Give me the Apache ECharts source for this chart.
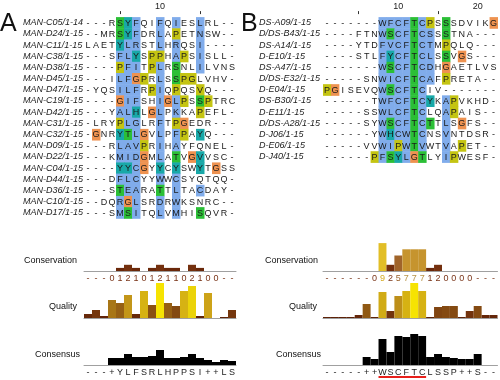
<!DOCTYPE html>
<html>
<head>
<meta charset="utf-8">
<script src="https://cdn.jsdelivr.net/npm/echarts@6.0.0/dist/echarts.min.js"></script>
<style>
  html, body { margin: 0; background: #fff; }
  #chart { width: 500px; height: 380px; }
</style>
</head>
<body>
<div id="chart"></div>
<script>
// ---- panel A alignment
const namesA = ['MAN-C05/1-14', 'MAN-D24/1-15', 'MAN-C11/1-15', 'MAN-C38/1-15', 'MAN-D38/1-15',
  'MAN-D45/1-15', 'MAN-D47/1-15', 'MAN-C19/1-15', 'MAN-D42/1-15', 'MAN-C31/1-15', 'MAN-C32/1-15',
  'MAN-D09/1-15', 'MAN-D22/1-15', 'MAN-C04/1-15', 'MAN-D44/1-15', 'MAN-D36/1-15', 'MAN-C10/1-15',
  'MAN-D17/1-15'];
const seqA = [
  '---RSYFQIFQIESLRL--', '--MRSYFDRLAPETNSW--', 'LAETYLRSTLHRQSI----', '---SFLYSPPHAPSISLL-',
  '----PFITPLRSNLILVNS', '---ILFGPRLSSPGLVHV-', '-YQSILFRPIQPQSVQ---', '----GIFSHIGLPSSPTRC',
  '---YALHLGLPKKAPEFL-', '-LRYPLGLRFTPGEDR---', '-GNRYTLGVLPFPAYQ---', '---RLAVPRIHAYFQNEL-',
  '---KMIDGMLATVGVVSC-', '----YYCGYYCYSWYTGSS', '---DFLCYYWWCSYQTQQ-', '---STEARATTLTACDAY-',
  '--DQRGLSRDRWKSNRC--', '---SMSITQLVMHISQVR-'];
// residue classes: h hydrophobic, p polar, a aromatic, y proline, g glycine, . none
const clsA = [
  '....pah..h.h..h....', '....pah..h.y..h....', '....ahh..h.h..h....', '....hha.yy.hy.h....',
  '....yhh.yh.p..h....', '....hhgy.h.pyy.....', '....hhh.yh.y..y....', '....ghh..hghy.py...',
  '....hha.gh.h..y....', '....yhh..h.yg......', '.g..aphg.h.hy.a....', '....hhhy.h.h.......',
  '....hhhg.h.p.ga....', '....aahg.a.a..a.g..', '....hhh..h.h.......', '....phh..p.h..h....',
  '....hgh..h.h.......', '....hph..h.h..p....'];
const colsA = ['1','2','3','4','5','6','7','8','9','10','11','12','13','14','15','16','17','18','19'];

// ---- panel B alignment
const namesB = ['DS-A09/1-15', 'D/DS-B43/1-15', 'DS-A14/1-15', 'D-E10/1-15', 'DS-A47/1-15',
  'D/DS-E32/1-15', 'D-E04/1-15', 'DS-B30/1-15', 'D-E11/1-15', 'D/DS-A28/1-15', 'D-J06/1-15',
  'D-E06/1-15', 'D-J40/1-15'];
const seqB = [
  '-------WFCFTCPSSSDVIKG', '----FTNWSCFTCSSSTNA---', '----YTDFVCFTCTMPQLQ---',
  '----STLFYCFTCLSSVGS---', '-------WSCFTCDHGAETLVS', '-----SNWICFTCAFPRETA--',
  'PGISEVQWSCFTCIV-------', '------TWFCFTCYKAPVKHD-', '-----SSWLCFTCLQAPAIS--',
  '-----SYWSCFTCTTLSGFS--', '------YWHCWTCNSVNTDSR-', '-----VVWIPWTVWTVAPET--',
  '------PFSYLGTLYIPWESF-'];
const clsB = [
  '.......hhhhphy.p.....g', '.......hphhphh.p......', '.......hhhhphh.y......',
  '.......hahhphh.p.g....', '.......hphhphh.g......', '.......hhhhphh.y......',
  'yg.....hphhph.........', '.......hhhhpha.hy.....', '.......hhhhph..hy.....',
  '.......hphhphp.h.g....', '.......hahhph..h......', '.......hhyhph..h.y....',
  '......yhpahgp..hy.....'];
const colsB = ['1','2','3','4','5','6','7','8','9','10','11','12','13','14','15','16','17','18','19','20','21','22'];

// ---- annotation rows
const consA = [null, null, null, 0, 1, 2, 1, 0, 1, 2, 1, 1, 0, 2, 1, 0, 0, null, null];
const consB = [null, null, null, null, null, null, 0, 9, 2, 5, 7, 7, 7, 1, 2, 0, 0, 0, 0, null, null, null];
const qualA = [4, 8, 2, 18, 15, 23, 4, 27, 13, 35, 15, 12, 27, 32, 2, 25, 0, 1, 8];
const qualB = [1, 1, 1, 1, 3, 14, 1, 26, 7, 22, 27, 35, 27, 1, 11, 12, 12, 1, 7, 12, 3, 3];
const consensusA = [0, 0, 0, 7, 7, 11, 8, 8, 9, 15, 7, 7, 8, 11, 7, 5, 3, 5, 4];
const consensusB = [0, 0, 0, 0, 0, 8, 6, 26, 13, 29, 28, 31, 29, 8, 11, 8, 7, 6, 6, 11, 0, 0];
const consensusLabelsA = ['-','-','-','+','Y','L','F','S','R','L','H','P','P','S','I','+','+','L','S'];
const consensusLabelsB = ['-','-','-','-','-','+','+','W','S','C','F','T','C','L','S','S','P','+','+','S','-','-'];
const underlineB = [8, 13]; // columns of the WSCFTC motif

const FONT = '"Liberation Sans", Arial, sans-serif';
const residueColor = { h: '#80aceb', p: '#2bbf36', a: '#18a8a8', y: '#c4c412', g: '#ee9250' };

function consLabelColor(v) {
  if (v == null || v <= 2) return '#7a3418';
  if (v <= 5) return '#98602c';
  if (v <= 7) return '#b89448';
  return '#d4aa20';
}

function alignmentSeries(idx, seqs, classes) {
  const cells = [];
  seqs.forEach(function (s, r) {
    s.split('').forEach(function (ch, c) { cells.push([c, r, ch, classes[r][c]]); });
  });
  return {
    type: 'custom', xAxisIndex: idx, yAxisIndex: idx, clip: false,
    data: cells.map(function (d) { return [d[0], d[1]]; }),
    encode: { x: 0, y: 1 },
    renderItem: function (params, api) {
      const d = cells[params.dataIndex];
      const p = api.coord([api.value(0), api.value(1)]);
      const s = api.size([1, 1]);
      const kids = [];
      if (residueColor[d[3]]) {
        kids.push({ type: 'rect',
          shape: { x: p[0] - s[0] / 2, y: p[1] - s[1] / 2, width: s[0] + 0.5, height: s[1] + 0.5 },
          style: { fill: residueColor[d[3]] } });
      }
      kids.push({ type: 'text',
        style: { text: d[2], x: p[0], y: p[1] + 0.5, align: 'center', verticalAlign: 'middle',
          textAlign: 'center', textVerticalAlign: 'middle', font: '9px ' + FONT, fill: '#1a1a1a' } });
      return { type: 'group', children: kids };
    }
  };
}

function alignXAxis(idx, cols) {
  return {
    gridIndex: idx, type: 'category', data: cols, position: 'top', offset: 3,
    axisLine: { show: false },
    axisTick: { show: true, alignWithLabel: true, length: 3,
      interval: function (i) { return (i + 1) % 5 === 0 && (i + 1) % 10 !== 0; },
      lineStyle: { color: '#333' } },
    axisLabel: { interval: function (i) { return (i + 1) % 10 === 0; },
      margin: 3, fontSize: 9, color: '#222', fontFamily: FONT },
    splitLine: { show: false }
  };
}

function alignYAxis(idx, names, margin) {
  return {
    gridIndex: idx, type: 'category', data: names, inverse: true,
    axisLine: { show: false }, axisTick: { show: false }, splitLine: { show: false },
    axisLabel: { interval: 0, align: 'left', margin: margin, fontSize: 9, fontStyle: 'italic',
      color: '#222', fontFamily: FONT }
  };
}

function annoXAxis(idx, cols, labels, colorFn) {
  return {
    gridIndex: idx, type: 'category', data: cols,
    axisLine: { show: true, lineStyle: { color: '#a0a0a0', width: 1 } },
    axisTick: { show: false }, splitLine: { show: false },
    axisLabel: labels ? {
      interval: 0, margin: 3, fontSize: 9, fontFamily: FONT,
      formatter: function (v, i) { return labels[i]; },
      color: colorFn || '#222'
    } : { show: false }
  };
}

function valYAxis(idx, max) {
  return { gridIndex: idx, type: 'value', min: 0, max: max, show: false };
}

function barSeries(idx, values, color) {
  const s = { type: 'bar', xAxisIndex: idx, yAxisIndex: idx, data: values,
    barCategoryGap: '0%', barGap: '0%' };
  if (color) s.itemStyle = { color: color };
  return s;
}

const consLabelsA = consA.map(function (v) { return v == null ? '-' : String(v); });
const consLabelsB = consB.map(function (v) { return v == null ? '-' : String(v); });

const chart = echarts.init(document.getElementById('chart'), null, { renderer: 'canvas' });

chart.setOption({
  animation: false,
  backgroundColor: '#fff',
  grid: [
    { left: 84, top: 17.1, width: 152, height: 201.2 },
    { left: 323, top: 17.1, width: 174.5, height: 145.3 },
    { left: 84, top: 240, width: 152, height: 31 },
    { left: 323, top: 240, width: 174.5, height: 31 },
    { left: 84, top: 282, width: 152, height: 36 },
    { left: 323, top: 282, width: 174.5, height: 36 },
    { left: 84, top: 333, width: 152, height: 32 },
    { left: 323, top: 333, width: 174.5, height: 32 }
  ],
  xAxis: [
    alignXAxis(0, colsA),
    alignXAxis(1, colsB),
    annoXAxis(2, colsA, consLabelsA, function (v, i) { return consLabelColor(consA[i]); }),
    annoXAxis(3, colsB, consLabelsB, function (v, i) { return consLabelColor(consB[i]); }),
    annoXAxis(4, colsA, null),
    annoXAxis(5, colsB, null),
    annoXAxis(6, colsA, consensusLabelsA),
    annoXAxis(7, colsB, consensusLabelsB)
  ],
  yAxis: [
    alignYAxis(0, namesA, 61),
    alignYAxis(1, namesB, 64),
    valYAxis(2, 10), valYAxis(3, 10),
    valYAxis(4, 36), valYAxis(5, 36),
    valYAxis(6, 32), valYAxis(7, 32)
  ],
  visualMap: [
    { show: false, type: 'continuous', seriesIndex: [2, 3], dimension: 1, min: 0, max: 10,
      inRange: { color: ['#5a1c06', '#6a280a', '#74300e', '#80401a', '#905222', '#a0642a',
        '#b47c2c', '#c6942e', '#d6ac2a', '#e2be26', '#f0d020'] } },
    { show: false, type: 'continuous', seriesIndex: [4, 5], dimension: 1, min: 0, max: 36,
      inRange: { color: ['#5a1e06', '#6e2e0c', '#844a12', '#a87616', '#c89c1a', '#e4c80c', '#fae800'] } }
  ],
  series: [
    alignmentSeries(0, seqA, clsA),
    alignmentSeries(1, seqB, clsB),
    barSeries(2, consA),
    barSeries(3, consB),
    barSeries(4, qualA),
    barSeries(5, qualB),
    barSeries(6, consensusA, '#000'),
    barSeries(7, consensusB, '#000'),
    {
      type: 'custom', xAxisIndex: 7, yAxisIndex: 7, clip: false,
      data: [[underlineB[0] - 1, underlineB[1] - 1]],
      encode: { x: [0, 1] },
      renderItem: function (params, api) {
        const a = api.coord([api.value(0), 0]);
        const b = api.coord([api.value(1), 0]);
        const s = api.size([1, 0]);
        return { type: 'line',
          shape: { x1: a[0] - s[0] / 2, y1: a[1] + 12, x2: b[0] + s[0] / 2, y2: a[1] + 12 },
          style: { stroke: '#e8201c', lineWidth: 2 } };
      }
    }
  ],
  graphic: [
    { type: 'text', x: 0, y: 24, style: { text: 'A', font: '25px ' + FONT, fill: '#111',
      align: 'left', verticalAlign: 'middle', textAlign: 'left', textVerticalAlign: 'middle' } },
    { type: 'text', x: 241, y: 24, style: { text: 'B', font: '25px ' + FONT, fill: '#111',
      align: 'left', verticalAlign: 'middle', textAlign: 'left', textVerticalAlign: 'middle' } },
    { type: 'text', x: 77, y: 261, style: { text: 'Conservation', font: '9px ' + FONT, fill: '#111',
      align: 'right', verticalAlign: 'middle', textAlign: 'right', textVerticalAlign: 'middle' } },
    { type: 'text', x: 77, y: 307, style: { text: 'Quality', font: '9px ' + FONT, fill: '#111',
      align: 'right', verticalAlign: 'middle', textAlign: 'right', textVerticalAlign: 'middle' } },
    { type: 'text', x: 80, y: 355, style: { text: 'Consensus', font: '9px ' + FONT, fill: '#111',
      align: 'right', verticalAlign: 'middle', textAlign: 'right', textVerticalAlign: 'middle' } },
    { type: 'text', x: 318, y: 261, style: { text: 'Conservation', font: '9px ' + FONT, fill: '#111',
      align: 'right', verticalAlign: 'middle', textAlign: 'right', textVerticalAlign: 'middle' } },
    { type: 'text', x: 317, y: 307, style: { text: 'Quality', font: '9px ' + FONT, fill: '#111',
      align: 'right', verticalAlign: 'middle', textAlign: 'right', textVerticalAlign: 'middle' } },
    { type: 'text', x: 321, y: 355, style: { text: 'Consensus', font: '9px ' + FONT, fill: '#111',
      align: 'right', verticalAlign: 'middle', textAlign: 'right', textVerticalAlign: 'middle' } }
  ]
});
</script>
</body>
</html>
